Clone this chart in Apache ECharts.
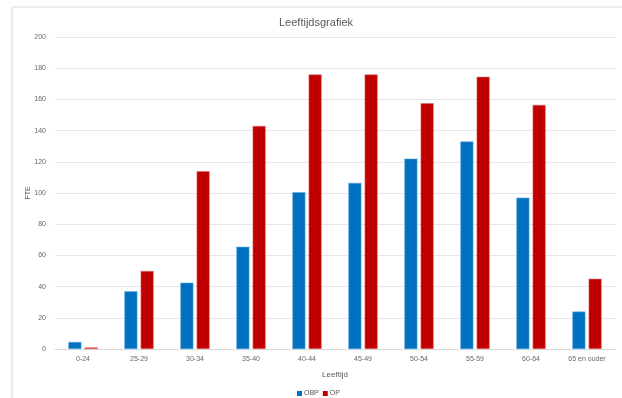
<!DOCTYPE html>
<html>
<head>
<meta charset="utf-8">
<script src="https://cdn.jsdelivr.net/npm/echarts@6/dist/echarts.min.js"></script>
<style>
  html, body { margin: 0; padding: 0; background: #fff; }
  #chart { width: 622px; height: 398px; }
</style>
</head>
<body>
<div id="chart"></div>
<script>
// Leeftijdsgroepen en FTE per groep
const categories = ['0-24', '25-29', '30-34', '35-40', '40-44', '45-49', '50-54', '55-59', '60-64', '65 en ouder'];
const obpValues = [4.5, 37, 42.5, 65.5, 100.5, 106.5, 122, 133, 97, 24];
const opValues = [1, 50, 114, 143, 176, 176, 157.5, 174.5, 156.5, 45];
const yTicks = { min: 0, max: 200, interval: 20 };

const font = '"Liberation Sans", Arial, sans-serif';
const chart = echarts.init(document.getElementById('chart'), null, { renderer: 'canvas' });

chart.setOption({
  animation: false,
  backgroundColor: '#ffffff',
  graphic: [{
    type: 'rect',
    shape: { x: 12, y: 7, width: 640, height: 420 },
    style: { fill: 'none', stroke: '#d9d9d9', lineWidth: 1 },
    silent: true
  }],
  title: {
    text: 'Leeftijdsgrafiek',
    left: 311,
    textAlign: 'center',
    top: 12,
    textStyle: { fontFamily: font, fontSize: 11, fontWeight: 'normal', color: '#595959' }
  },
  legend: {
    data: ['OBP', 'OP'],
    top: 390,
    left: 297,
    padding: 0,
    itemWidth: 5,
    itemHeight: 5,
    itemGap: 4,
    icon: 'rect',
    itemStyle: { borderWidth: 0 },
    textStyle: { fontFamily: font, fontSize: 7, color: '#595959', padding: [0, 0, 0, -3] }
  },
  grid: { left: 55, right: 7, top: 37, bottom: 49, containLabel: false },
  xAxis: {
    type: 'category',
    data: categories,
    name: 'Leeftijd',
    nameLocation: 'middle',
    nameGap: 22,
    nameTextStyle: { fontFamily: font, fontSize: 8, color: '#595959' },
    axisLine: { lineStyle: { color: '#d9d9d9' } },
    axisTick: { show: false },
    axisLabel: { fontFamily: font, fontSize: 7, color: '#666666', margin: 7, interval: 0 }
  },
  yAxis: {
    type: 'value',
    min: yTicks.min,
    max: yTicks.max,
    interval: yTicks.interval,
    name: 'FTE',
    nameLocation: 'middle',
    nameGap: 23,
    nameMoveOverlap: false,
    nameRotate: 90,
    nameTextStyle: { fontFamily: font, fontSize: 7, color: '#595959' },
    axisLine: { show: false },
    axisTick: { show: false },
    axisLabel: { fontFamily: font, fontSize: 7, color: '#666666', margin: 9 },
    splitLine: { lineStyle: { color: '#e6e6e6', width: 1 } }
  },
  series: [
    {
      name: 'OBP',
      type: 'bar',
      data: obpValues,
      barWidth: 13,
      barGap: '25%',
      itemStyle: { color: '#0070C0', borderColor: '#5aa5dd', borderWidth: 0.6 }
    },
    {
      name: 'OP',
      type: 'bar',
      data: opValues,
      barWidth: 13,
      itemStyle: { color: '#C00000', borderColor: '#e06a6a', borderWidth: 0.6 }
    }
  ]
});
</script>
</body>
</html>
